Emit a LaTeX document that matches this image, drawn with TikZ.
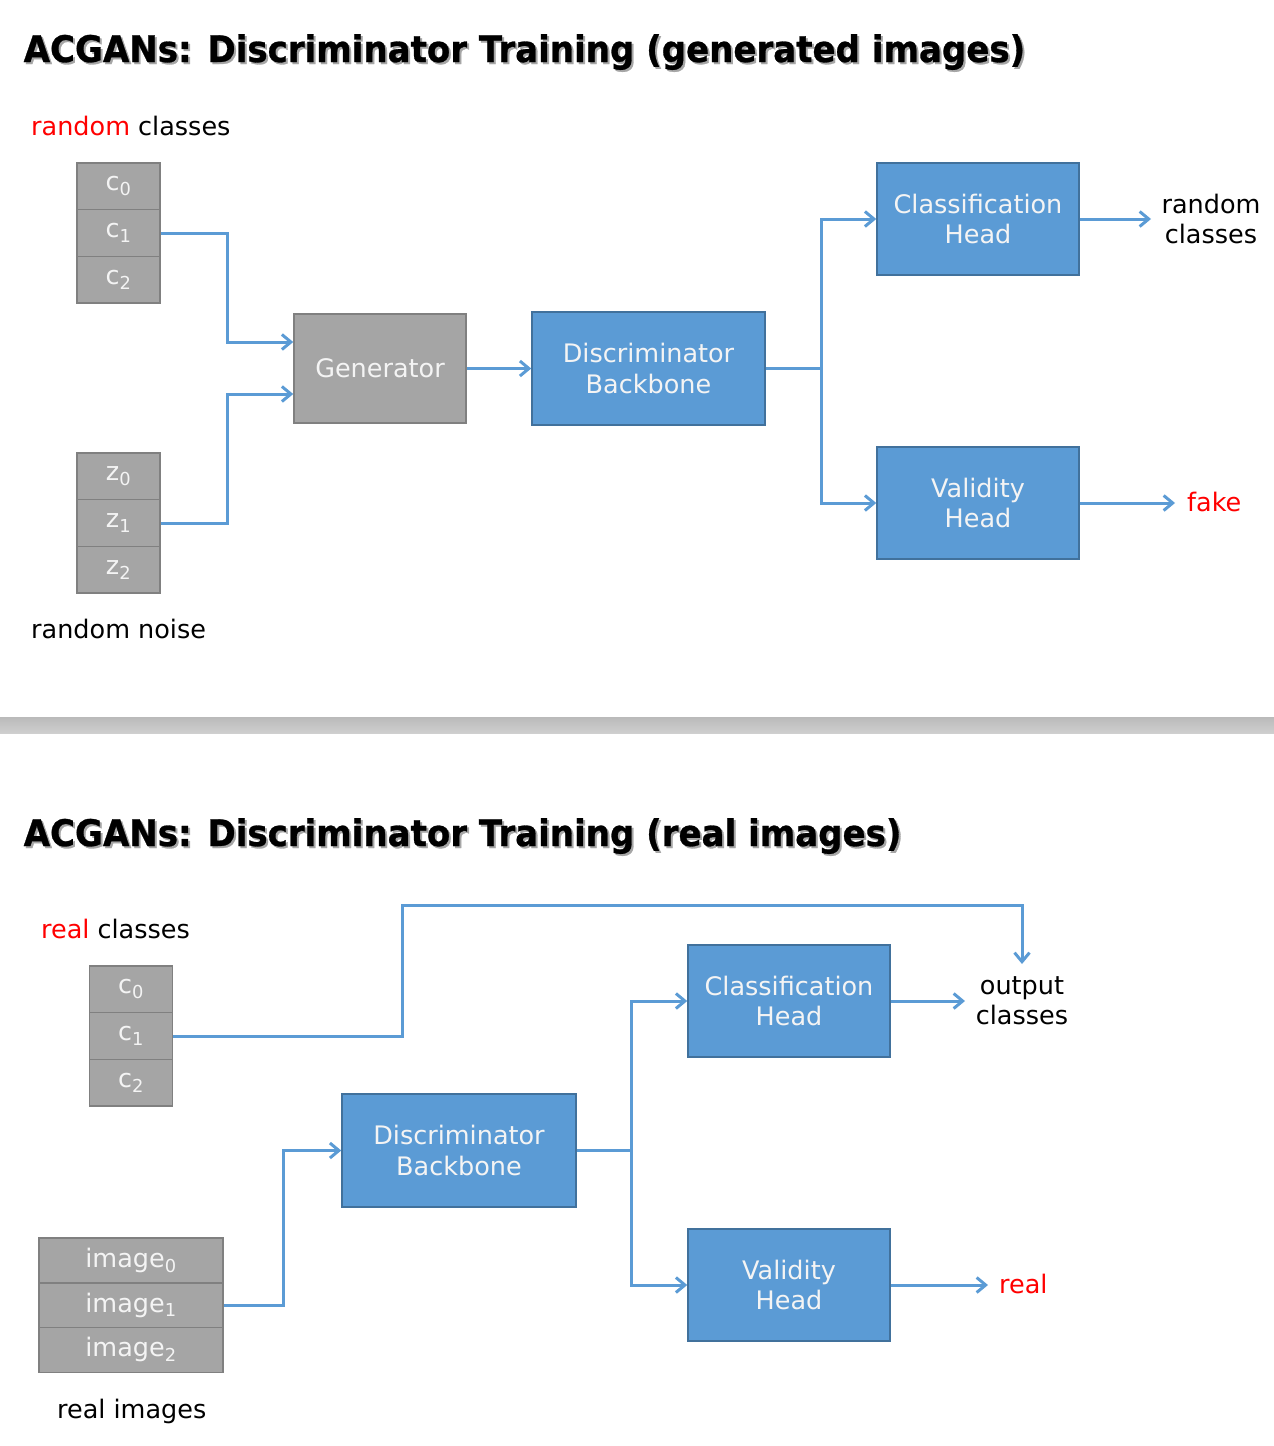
\documentclass[tikz,border=0pt]{standalone}
\usepackage{fontspec}
\setmainfont{DejaVu Sans}
\newfontfamily\ttlfont[FakeStretch=0.93,FakeBold=0.8]{DejaVu Sans Bold}
\usetikzlibrary{arrows.meta}
\definecolor{blu}{HTML}{5B9BD5}
\definecolor{bluedge}{HTML}{41719C}
\definecolor{gry}{HTML}{A5A5A5}
\definecolor{gryedge}{HTML}{808080}
\definecolor{redt}{HTML}{FF0000}
\definecolor{boxtxt}{HTML}{F4F4F4}
\begin{document}
\begin{tikzpicture}[x=1pt,y=-1pt,
  txt/.style={font=\fontsize{25.5}{30}\selectfont, inner sep=0pt},
  ttl/.style={font=\fontsize{36.6}{40}\ttlfont, inner sep=0pt, anchor=base west},
  bluebox/.style={draw=bluedge, fill=blu, line width=1.5pt, text=boxtxt, align=center,
    font=\fontsize{25.5}{30.5}\selectfont, inner sep=0pt},
  grybox/.style={draw=gryedge, fill=gry, line width=1.5pt, text=boxtxt, align=center,
    font=\fontsize{25.5}{30.5}\selectfont, inner sep=0pt},
  cell/.style={grybox, minimum width=83pt, minimum height=46.7pt},
  icell/.style={grybox, minimum width=184pt, minimum height=44.7pt},
  conn/.style={draw=blu, line width=3pt},
  arr/.style={conn, -{Straight Barb[length=9pt,width=15pt]}},
]
\useasboundingbox (0,0) rectangle (1274,1446);

% ---------- top half ----------
\node[ttl, text=black!35] at (25.5,64) {ACGANs: Discriminator Training (generated images)};
\node[ttl] (t1) at (23.5,62) {ACGANs: Discriminator Training (generated images)};

\node[txt, anchor=base west] (rcl) at (31,135.5) {\textcolor{redt}{random} classes};
\node[cell] (c0) at (118.5,186.3) {c\textsubscript{0}};
\node[cell] (c1) at (118.5,233) {c\textsubscript{1}};
\node[cell] (c2) at (118.5,279.7) {c\textsubscript{2}};

\node[cell] (z0) at (118.5,476.3) {z\textsubscript{0}};
\node[cell] (z1) at (118.5,523) {z\textsubscript{1}};
\node[cell] (z2) at (118.5,569.7) {z\textsubscript{2}};
\node[txt, anchor=base west] (rn) at (31,638.5) {random noise};

\node[grybox, minimum width=172pt, minimum height=109pt] (gen) at (380,368.5) {Generator};
\node[bluebox, minimum width=233pt, minimum height=113pt] (bb) at (648.5,368.5) {Discriminator\\Backbone};
\node[bluebox, minimum width=202pt, minimum height=112pt] (ch) at (978,219) {Classification\\Head};
\node[bluebox, minimum width=202pt, minimum height=112pt] (vh) at (978,503) {Validity\\Head};

\node[txt, align=center] (rc) at (1211,219) {random\\classes};
\node[txt, anchor=base west, text=redt] (fk) at (1187,511.5) {fake};
\coordinate (o1) at (1151,219);
\coordinate (o2) at (1175,503);

\draw[arr] (c1.east) -- ++(67,0) |- ([yshift=26.5pt]gen.west);
\draw[arr] (z1.east) -- ++(67,0) |- ([yshift=-25.5pt]gen.west);
\draw[arr] (gen.east) -- (bb.west);
\draw[arr] (bb.east) -- ++(56,0) |- (ch.west);
\draw[arr] (bb.east) -- ++(56,0) |- (vh.west);
\draw[arr] (ch.east) -- (o1);
\draw[arr] (vh.east) -- (o2);

% ---------- separator ----------
\shade[top color=black!27, middle color=black!10, bottom color=black!19] (0,717) rectangle (1274,733);

% ---------- bottom half ----------
\node[ttl, text=black!35] at (25.5,848) {ACGANs: Discriminator Training (real images)};
\node[ttl] (t2) at (23.5,846) {ACGANs: Discriminator Training (real images)};

\node[txt, anchor=base west] (rlc) at (41,938.5) {\textcolor{redt}{real} classes};
\node[cell] (d0) at (131,989.3) {c\textsubscript{0}};
\node[cell] (d1) at (131,1036) {c\textsubscript{1}};
\node[cell] (d2) at (131,1082.7) {c\textsubscript{2}};

\node[icell] (i0) at (131,1260.5) {image\textsubscript{0}};
\node[icell] (i1) at (131,1305.2) {image\textsubscript{1}};
\node[icell] (i2) at (131,1349.9) {image\textsubscript{2}};
\node[txt, anchor=base west] (ri) at (57,1418.5) {real images};

\node[bluebox, minimum width=234pt, minimum height=113pt] (bb2) at (459,1150.5) {Discriminator\\Backbone};
\node[bluebox, minimum width=202pt, minimum height=112pt] (ch2) at (789,1001) {Classification\\Head};
\node[bluebox, minimum width=202pt, minimum height=112pt] (vh2) at (789,1285) {Validity\\Head};

\node[txt, align=center] (oc) at (1022,1001) {output\\classes};
\node[txt, anchor=base west, text=redt] (rl) at (999,1293.5) {real};
\coordinate (ot) at (1022,905);
\coordinate (oa) at (1022,964);
\coordinate (o3) at (965,1001);
\coordinate (o4) at (988,1285);

\draw[arr] (d1.east) -- ++(229,0) |- (ot) -- (oa);
\draw[arr] (i1.east) -- ++(60,0) |- (bb2.west);
\draw[arr] (bb2.east) -- ++(55,0) |- (ch2.west);
\draw[arr] (bb2.east) -- ++(55,0) |- (vh2.west);
\draw[arr] (ch2.east) -- (o3);
\draw[arr] (vh2.east) -- (o4);
\end{tikzpicture}
\end{document}
